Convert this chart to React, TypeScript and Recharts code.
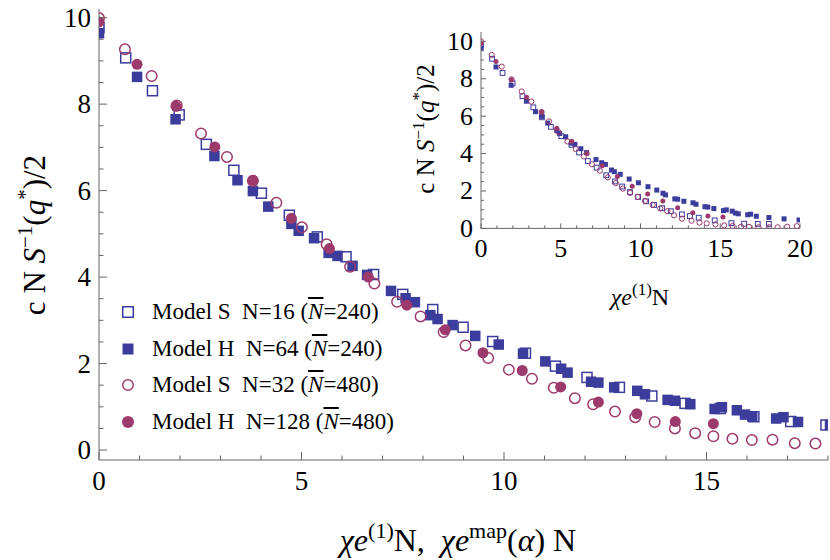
import React from 'react';
import { ScatterChart, Scatter, XAxis, YAxis, Legend } from 'recharts';

const BLUE = '#3c3c9c';
const PURPLE = '#9c3a6c';
const FRAME = '#666';
const FONT = '"Liberation Serif", "DejaVu Serif", "Times New Roman", serif';

// ---------- main panel data (x = chi_e N, y = c N S^-1(q*)/2) ----------
const sN16X = [0, 0.66, 1.32, 1.98, 2.65, 3.33, 4.01, 4.70, 5.39, 6.10, 6.78, 7.50, 8.24, 8.99, 9.72, 10.53, 11.27, 12.05, 12.85, 13.65, 14.47, 15.34, 16.17, 17.08, 17.95];
const sN16Y = [9.77, 9.07, 8.31, 7.75, 7.07, 6.47, 5.94, 5.43, 4.93, 4.47, 4.06, 3.60, 3.25, 2.84, 2.51, 2.24, 1.94, 1.68, 1.45, 1.25, 1.08, 0.96, 0.77, 0.66, 0.58];

const hN64X = [0, 0.94, 1.89, 2.85, 3.42, 3.80, 4.18, 4.75, 4.93, 5.31, 5.67, 5.89, 6.26, 6.62, 7.21, 7.57, 7.80, 8.18, 8.36, 8.73, 9.29, 9.87, 10.47, 11.02, 11.41, 11.57, 12.15, 12.33, 12.72, 13.29, 13.48, 14.04, 14.22, 14.60, 15.20, 15.38, 15.75, 15.95, 16.13, 16.72, 16.90, 17.26, 18.05];
const hN64Y = [9.64, 8.63, 7.65, 6.80, 6.24, 5.99, 5.63, 5.23, 5.07, 4.90, 4.56, 4.49, 4.26, 4.05, 3.68, 3.51, 3.42, 3.12, 3.03, 2.89, 2.64, 2.44, 2.23, 2.05, 1.88, 1.79, 1.58, 1.56, 1.45, 1.37, 1.29, 1.16, 1.14, 1.06, 0.95, 0.99, 0.92, 0.82, 0.78, 0.73, 0.76, 0.65, 0.58];

const sN32X = [0, 0.64, 1.30, 1.92, 2.52, 3.16, 3.80, 4.38, 5.01, 5.62, 6.20, 6.80, 7.36, 7.94, 8.51, 9.05, 9.61, 10.12, 10.69, 11.23, 11.75, 12.20, 12.74, 13.24, 13.72, 14.22, 14.72, 15.17, 15.64, 16.12, 16.63, 17.18, 17.69];
const sN32Y = [9.99, 9.27, 8.65, 7.97, 7.32, 6.78, 6.22, 5.72, 5.15, 4.76, 4.24, 3.85, 3.43, 3.09, 2.73, 2.42, 2.13, 1.86, 1.65, 1.44, 1.20, 1.06, 0.89, 0.76, 0.65, 0.50, 0.39, 0.32, 0.26, 0.23, 0.24, 0.16, 0.15];

const hN128X = [0, 0.94, 1.90, 2.86, 3.80, 4.75, 5.69, 6.65, 7.60, 8.55, 9.48, 10.45, 11.40, 12.33, 13.28, 14.23, 15.17];
const hN128Y = [9.90, 8.92, 7.95, 7.01, 6.24, 5.36, 4.66, 4.00, 3.35, 2.78, 2.25, 1.84, 1.46, 1.11, 0.84, 0.66, 0.61];

// ---------- inset data (x = chi_e^(1) N) ----------
const insetSN16X = [0, 0.70, 1.35, 1.98, 2.60, 3.28, 3.82, 4.38, 5.04, 5.67, 6.15, 6.70, 7.25, 7.85, 8.40, 8.85, 9.34, 9.85, 10.35, 10.85, 11.35, 11.90, 12.60, 13.10, 13.65, 14.65, 15.70, 16.50, 17.35, 18.05];
const insetSN16Y = [9.77, 9.07, 8.31, 7.75, 7.07, 6.47, 5.94, 5.43, 4.93, 4.47, 4.06, 3.60, 3.25, 2.84, 2.51, 2.24, 1.94, 1.68, 1.45, 1.25, 1.08, 0.92, 0.75, 0.66, 0.57, 0.43, 0.28, 0.25, 0.24, 0.24];
const insetHN64ExtraX = [19.0, 19.94];
const insetHN64ExtraY = [0.51, 0.45];
const insetSN32X = [0, 0.67, 1.30, 1.92, 2.55, 3.15, 3.80, 4.27, 4.85, 5.42, 5.94, 6.45, 6.95, 7.45, 7.95, 8.45, 8.90, 9.35, 9.82, 10.28, 10.76, 11.24, 11.68, 12.10, 12.60, 13.20, 13.70, 14.15, 14.70, 15.25, 15.77, 16.30, 16.80, 17.40, 18.06, 18.60, 19.20, 19.80];
const insetSN32Y = [10.0, 9.27, 8.65, 7.97, 7.32, 6.78, 6.22, 5.72, 5.15, 4.65, 4.24, 3.85, 3.43, 3.09, 2.73, 2.42, 2.13, 1.90, 1.68, 1.47, 1.26, 1.07, 0.92, 0.70, 0.52, 0.41, 0.31, 0.27, 0.22, 0.16, 0.13, 0.09, 0.08, 0.06, 0.06, 0.06, 0.09, 0.12];

// ---------- ticks ----------
const mainXTicks = [0, 1, 2, 3, 4, 5, 6, 7, 8, 9, 10, 11, 12, 13, 14, 15, 16, 17, 18];
const mainXMajor = [0, 5, 10, 15];
const mainYTicks = [0, 0.5, 1, 1.5, 2, 2.5, 3, 3.5, 4, 4.5, 5, 5.5, 6, 6.5, 7, 7.5, 8, 8.5, 9, 9.5, 10];
const mainYMajor = [0, 2, 4, 6, 8, 10];
const insetXTicks = [0, 1, 2, 3, 4, 5, 6, 7, 8, 9, 10, 11, 12, 13, 14, 15, 16, 17, 18, 19, 20];
const insetXMajor = [0, 5, 10, 15, 20];
const insetYTicks = mainYTicks;
const insetYMajor = mainYMajor;

// ---------- legend ----------
const legendModels = ['Model S', 'Model H', 'Model S', 'Model H'];
const legendN = [16, 64, 32, 128];
const legendNbar = [240, 240, 480, 480];
const legendKinds = ['sq', 'sqf', 'ci', 'cif'];
const legendNames = legendModels.map((m, i) => `${m}  N=${legendN[i]} (N\u0304=${legendNbar[i]})`);

const pts = (xs: number[], ys: number[]) => xs.map((x, i) => ({ x, y: ys[i] }));

const mainA = pts(sN16X, sN16Y);
const mainB = pts(hN64X, hN64Y);
const mainC = pts(sN32X, sN32Y);
const mainD = pts(hN128X, hN128Y);
const insA = pts(insetSN16X, insetSN16Y);
const insB = pts(hN64X.concat(insetHN64ExtraX), hN64Y.concat(insetHN64ExtraY));
const insC = pts(insetSN32X, insetSN32Y);
const insD = pts(hN128X, hN128Y);

function marker(kind: string, cx: number, cy: number, size: number, sw: number) {
  const h = size / 2;
  if (kind === 'sq')
    return <rect x={cx - h + sw / 2} y={cy - h + sw / 2} width={size - sw} height={size - sw} fill="#fff" fillOpacity={0} stroke={BLUE} strokeWidth={sw} />;
  if (kind === 'sqf') return <rect x={cx - h} y={cy - h} width={size} height={size} fill={BLUE} />;
  if (kind === 'ci') return <circle cx={cx} cy={cy} r={h - sw / 2} fill="none" stroke={PURPLE} strokeWidth={sw} />;
  return <circle cx={cx} cy={cy} r={h} fill={PURPLE} />;
}

const makeShape = (kind: string, size: number, sw: number) => (props: any) => {
  const { cx, cy } = props;
  if (cx == null || cy == null || isNaN(cx) || isNaN(cy)) return <g />;
  return marker(kind, cx, cy, size, sw);
};

type Side = 'bottom' | 'top' | 'left' | 'right';
const makeTick = (side: Side, majors: number[], majorLen: number, minorLen: number, fontSize: number, gap: number, labels: boolean) => (props: any) => {
  const { x, y, payload } = props;
  const v = Number(payload?.value);
  const major = majors.indexOf(v) >= 0;
  const len = major ? majorLen : minorLen;
  let x2 = x;
  let y2 = y;
  if (side === 'bottom') y2 = y - len;
  else if (side === 'top') y2 = y + len;
  else if (side === 'left') x2 = x + len;
  else x2 = x - len;
  let label: any = null;
  if (labels && major) {
    if (side === 'bottom')
      label = <text x={x} y={y + gap} textAnchor="middle" dominantBaseline="central" fontFamily={FONT} fontSize={fontSize} fill="#000">{String(v)}</text>;
    else if (side === 'left')
      label = <text x={x - gap} y={y} textAnchor="end" dominantBaseline="central" fontFamily={FONT} fontSize={fontSize} fill="#000">{String(v)}</text>;
  }
  return (
    <g>
      <line x1={x} y1={y} x2={x2} y2={y2} stroke={FRAME} strokeWidth={1} />
      {label}
    </g>
  );
};

const MainXTitle = () => (
  <text x={458} y={551} textAnchor="middle" fontFamily={FONT} fontSize={32} fill="#000">
    <tspan fontStyle="italic">χ</tspan>
    <tspan fontStyle="italic">e</tspan>
    <tspan fontSize={22} dy={-13}>(1)</tspan>
    <tspan dy={13}>{'N,\u00a0\u00a0'}</tspan>
    <tspan fontStyle="italic">χ</tspan>
    <tspan fontStyle="italic">e</tspan>
    <tspan fontSize={22} dy={-13}>map</tspan>
    <tspan dy={13}>(</tspan>
    <tspan fontStyle="italic">α</tspan>
    <tspan>{')\u00a0N'}</tspan>
  </text>
);

const YTitle = ({ x, y, fs, sfs, d }: { x: number; y: number; fs: number; sfs: number; d: number }) => (
  <text transform={`rotate(-90 ${x} ${y})`} x={x} y={y} textAnchor="middle" fontFamily={FONT} fontSize={fs} fill="#000">
    <tspan>{'c\u00a0N\u00a0'}</tspan>
    <tspan fontStyle="italic">S</tspan>
    <tspan fontSize={sfs} dy={-d}>−1</tspan>
    <tspan dy={d}>(</tspan>
    <tspan fontStyle="italic">q</tspan>
    <tspan fontSize={sfs} dy={-d}>*</tspan>
    <tspan dy={d}>)/2</tspan>
  </text>
);

const MainYTitle = () => <YTitle x={45} y={235} fs={31} sfs={21} d={13} />;
const InsetYTitle = () => <YTitle x={34} y={129} fs={25} sfs={17} d={10} />;

const InsetXTitle = () => (
  <text x={240} y={305} textAnchor="middle" fontFamily={FONT} fontSize={24} fill="#000">
    <tspan fontStyle="italic">χ</tspan>
    <tspan fontStyle="italic">e</tspan>
    <tspan fontSize={17} dy={-10}>(1)</tspan>
    <tspan dy={10}>N</tspan>
  </text>
);

const LegendContent = (props: any) => {
  const payload: any[] = props.payload || [];
  return (
    <div style={{ fontFamily: FONT, fontSize: 23, color: '#000' }}>
      {legendNames.map((name, i) => {
        const entry = payload.find((p: any) => p.value === name);
        const kind = legendKinds[i];
        return (
          <div key={name} style={{ display: 'flex', alignItems: 'center', height: 36.5, whiteSpace: 'pre' }}>
            <svg width={14} height={14} style={{ marginRight: 17, flex: 'none' }}>
              {entry ? marker(kind, 7, 7, kind === 'sqf' ? 11 : 12, 1.5) : null}
            </svg>
            <span>
              {legendModels[i]}{'  N='}{legendN[i]}{' ('}
              <span style={{ fontStyle: 'italic', textDecoration: 'overline' }}>N</span>
              {'='}{legendNbar[i]}{')'}
            </span>
          </div>
        );
      })}
    </div>
  );
};

const axisCommon = { type: 'number' as const, interval: 0 as const, allowDataOverflow: true, tickSize: 0, tickMargin: 0, tickLine: false, axisLine: { stroke: FRAME, strokeWidth: 1 } };

export default function App() {
  return (
    <div style={{ position: 'absolute', left: 0, top: 0, width: 830, height: 560, background: '#fff', overflow: 'hidden' }}>
      <div style={{ position: 'absolute', left: 0, top: 0 }}>
        <ScatterChart width={830} height={560} margin={{ top: 9, right: 2, bottom: 60, left: 39 }}>
          <XAxis {...axisCommon} dataKey="x" domain={[0, 18]} ticks={mainXTicks} height={40}
            tick={makeTick('bottom', mainXMajor, 8, 4.5, 27, 21, true)} label={<MainXTitle />} />
          <XAxis {...axisCommon} xAxisId="top" orientation="top" dataKey="x" domain={[0, 18]} ticks={mainXTicks} height={0}
            tick={makeTick('top', mainXMajor, 8, 4.5, 27, 0, false)} />
          <YAxis {...axisCommon} dataKey="y" domain={[-0.23, 10.2]} ticks={mainYTicks} width={60}
            tick={makeTick('left', mainYMajor, 8, 4.5, 27, 8, true)} label={<MainYTitle />} />
          <YAxis {...axisCommon} yAxisId="right" orientation="right" dataKey="y" domain={[-0.23, 10.2]} ticks={mainYTicks} width={0}
            tick={makeTick('right', mainYMajor, 8, 4.5, 27, 0, false)} />
          <Scatter name={legendNames[1]} data={mainB} fill={BLUE} shape={makeShape('sqf', 10.5, 0)} isAnimationActive={false} />
          <Scatter name={legendNames[0]} data={mainA} fill={BLUE} shape={makeShape('sq', 11.5, 1.5)} isAnimationActive={false} />
          <Scatter name={legendNames[2]} data={mainC} fill={PURPLE} shape={makeShape('ci', 12, 1.5)} isAnimationActive={false} />
          <Scatter name={legendNames[3]} data={mainD} fill={PURPLE} shape={makeShape('cif', 11, 0)} isAnimationActive={false} />
          <Legend layout="vertical" align="center" verticalAlign="middle" content={<LegendContent />}
            wrapperStyle={{ left: 121, top: 294, width: 360, height: 150, bottom: 'auto', right: 'auto' }} />
        </ScatterChart>
      </div>
      <div style={{ position: 'absolute', left: 400, top: 0 }}>
        <ScatterChart width={420} height={320} margin={{ top: 32, right: 20, bottom: 51.6, left: 21 }}>
          <XAxis {...axisCommon} dataKey="x" domain={[0, 20]} ticks={insetXTicks} height={40}
            tick={makeTick('bottom', insetXMajor, 5, 3, 26, 20, true)} label={<InsetXTitle />} />
          <XAxis {...axisCommon} xAxisId="top" orientation="top" dataKey="x" domain={[0, 20]} ticks={insetXTicks} height={0}
            tick={makeTick('top', insetXMajor, 5, 3, 26, 0, false)} />
          <YAxis {...axisCommon} dataKey="y" domain={[0, 10.5]} ticks={insetYTicks} width={60}
            tick={makeTick('left', insetYMajor, 5, 3, 26, 8, true)} label={<InsetYTitle />} />
          <YAxis {...axisCommon} yAxisId="right" orientation="right" dataKey="y" domain={[0, 10.5]} ticks={insetYTicks} width={0}
            tick={makeTick('right', insetYMajor, 5, 3, 26, 0, false)} />
          <Scatter name={legendNames[1]} data={insB} fill={BLUE} shape={makeShape('sqf', 5, 0)} isAnimationActive={false} />
          <Scatter name={legendNames[0]} data={insA} fill={BLUE} shape={makeShape('sq', 5.8, 1)} isAnimationActive={false} />
          <Scatter name={legendNames[2]} data={insC} fill={PURPLE} shape={makeShape('ci', 6.2, 1)} isAnimationActive={false} />
          <Scatter name={legendNames[3]} data={insD} fill={PURPLE} shape={makeShape('cif', 5, 0)} isAnimationActive={false} />
        </ScatterChart>
      </div>
    </div>
  );
}
